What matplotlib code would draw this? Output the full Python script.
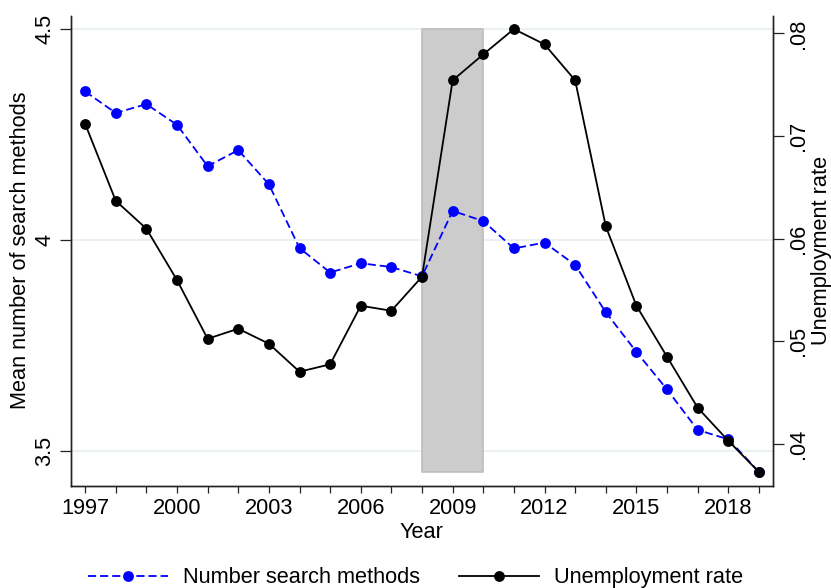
import matplotlib
matplotlib.use("Agg")
import matplotlib.pyplot as plt
from matplotlib.lines import Line2D

plt.rcParams['font.family'] = ['Liberation Sans', 'DejaVu Sans']

# Datos anuales
anios = list(range(1997, 2020))
metodos = [4.352, 4.301, 4.322, 4.273, 4.175, 4.213, 4.132, 3.981, 3.923, 3.945,
           3.936, 3.914, 4.069, 4.045, 3.980, 3.994, 3.941, 3.829, 3.735, 3.646,
           3.550, 3.528, 3.451]
desempleo = [0.07119, 0.06368, 0.06096, 0.05595, 0.05023, 0.05121, 0.04975, 0.04702,
             0.04774, 0.05345, 0.05296, 0.05628, 0.07542, 0.07795, 0.08042, 0.07893,
             0.07542, 0.06119, 0.05345, 0.04848, 0.04351, 0.04029, 0.03724]
recesion = (2008, 2010)
recesion_y = (3.45, 4.5)
xticks = list(range(1997, 2019, 3))
yticks_izq = [3.5, 4, 4.5]
yticks_der = [0.04, 0.05, 0.06, 0.07, 0.08]
yticklabels_der = ['.04', '.05', '.06', '.07', '.08']

fs = 15.7
azul = '#0000ff'

fig = plt.figure(figsize=(8.31, 5.88), dpi=100)
ax = fig.add_axes([0.0851, 0.174, 0.9302 - 0.0851, 0.9733 - 0.174])
ax2 = ax.twinx()

ax.set_xlim(1996.53, 2019.46)
ax.set_ylim(3.418, 4.5315)
ax2.set_ylim(0.03591, 0.08172)

# Rejilla y franja de recesion (eje de atras)
for v in yticks_izq:
    ax.axhline(v, color='#eaf1f3', lw=1.5, zorder=0)
ax.fill_between(recesion, recesion_y[0], recesion_y[1], facecolor='#cccccc',
                edgecolor='#bdbdbd', lw=1.2, zorder=1)

ax.plot(anios, metodos, color=azul, lw=1.3, dashes=(4.5, 2.2), marker='o',
        markersize=7.8, markeredgewidth=0, zorder=3)
ax2.plot(anios, desempleo, color='black', lw=1.3, marker='o',
         markersize=7.8, markeredgewidth=0, zorder=3)

for a in (ax, ax2):
    a.spines['top'].set_visible(False)
    for s in a.spines.values():
        s.set_linewidth(1.0)
        s.set_color('#222222')

ax.set_xticks(anios, minor=True)
ax.set_xticks(xticks)
ax.set_xticklabels([str(x) for x in xticks], fontsize=fs)
ax.tick_params(axis='x', which='both', length=5, width=0.9, pad=4, color='#222222')

ax.set_yticks(yticks_izq)
ax.set_yticklabels(['3.5', '4', '4.5'], fontsize=fs, rotation=90, va='center')
ax.tick_params(axis='y', length=8, width=0.9, pad=3, color='#222222')

ax2.set_yticks(yticks_der)
ax2.set_yticklabels(yticklabels_der, fontsize=fs, rotation=90, va='center')
ax2.tick_params(axis='y', length=8, width=0.9, pad=3, color='#222222')

ax.set_xlabel('Year', fontsize=fs, labelpad=2)
ax.set_ylabel('Mean number of search methods', fontsize=fs, labelpad=2.5)
ax2.set_ylabel('Unemployment rate', fontsize=fs, labelpad=1.5)

handles = [
    Line2D([], [], color=azul, lw=1.3, dashes=(4.5, 2.2), marker='o',
           markersize=7.8, markeredgewidth=0),
    Line2D([], [], color='black', lw=1.3, marker='o', markersize=7.8,
           markeredgewidth=0),
]
fig.legend(handles, ['Number search methods', 'Unemployment rate'], loc='center',
           bbox_to_anchor=(0.5, 1 - 577.7 / 588), ncol=2, frameon=False,
           fontsize=fs, handlelength=3.67, columnspacing=1.75, handletextpad=0.7)

fig.savefig('out.png', dpi=100)
